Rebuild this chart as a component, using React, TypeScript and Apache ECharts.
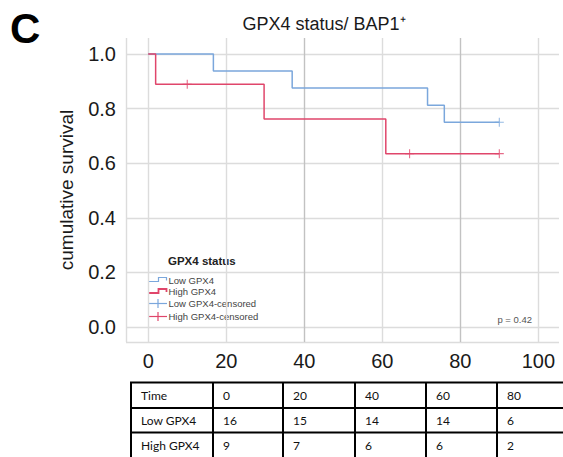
import React, { useEffect, useRef } from "react";
import * as echarts from "echarts";

// Kaplan-Meier step data (time in months, cumulative survival)
const lowTimes = [0, 16.7, 36.9, 71.6, 75.9, 90];
const lowSurv = [1, 0.9375, 0.875, 0.8125, 0.75, 0.75];
const highTimes = [0, 1.9, 29.7, 60.9, 90];
const highSurv = [1, 0.889, 0.762, 0.635, 0.635];
const lowCensorTimes = [90];
const lowCensorSurv = [0.75];
const highCensorTimes = [10, 67, 90];
const highCensorSurv = [0.889, 0.635, 0.635];

// Number at risk table
const tableTimes = ["0", "20", "40", "60", "80"];
const lowAtRisk = [16, 15, 14, 14, 6];
const highAtRisk = [9, 7, 6, 6, 2];
const tableRowLabels = ["Time", "Low GPX4", "High GPX4"];

const legendLabels = ["Low GPX4", "High GPX4", "Low GPX4-censored", "High GPX4-censored"];

const BLUE = "#7ba7dc";
const RED = "#e0466b";
const FONT = "Liberation Sans, Arial, sans-serif";

const PLUS = "path://M4.4,0h1.2v4.4h4.4v1.2h-4.4v4.4h-1.2v-4.4h-4.4v-1.2h4.4z";

function zip(a: number[], b: number[]) {
  return a.map((v, i) => [v, b[i]]);
}

function buildTable() {
  const els: any[] = [];
  const colX = [131, 213, 283, 355, 426, 497, 640];
  const rowY = [382.5, 408, 432.5, 458];
  const rows = [
    [tableRowLabels[0], ...tableTimes],
    [tableRowLabels[1], ...lowAtRisk.map(String)],
    [tableRowLabels[2], ...highAtRisk.map(String)],
  ];
  rowY.forEach((y) => {
    els.push({
      type: "line",
      shape: { x1: colX[0] - 1, y1: y, x2: colX[colX.length - 1], y2: y },
      style: { stroke: "#000", lineWidth: 2 },
    });
  });
  colX.forEach((x) => {
    els.push({
      type: "line",
      shape: { x1: x, y1: rowY[0], x2: x, y2: rowY[rowY.length - 1] },
      style: { stroke: "#000", lineWidth: 2 },
    });
  });
  rows.forEach((r, ri) => {
    r.forEach((t, ci) => {
      els.push({
        type: "text",
        x: colX[ci] + 10,
        y: (rowY[ri] + rowY[ri + 1]) / 2,
        style: {
          text: t,
          fontFamily: "Lato, 'Open Sans', sans-serif",
          fontSize: 12,
          fill: "#111",
          verticalAlign: "middle",
        },
      });
    });
  });
  return els;
}

function buildLegend() {
  const els: any[] = [];
  els.push({
    type: "text",
    x: 168,
    y: 261,
    style: {
      text: "GPX4 status",
      fontFamily: FONT,
      fontWeight: "bold",
      fontSize: 11.5,
      fill: "#222",
      verticalAlign: "middle",
    },
  });
  const ys = [280, 291.5, 303.5, 316.5];
  const colors = [BLUE, RED, BLUE, RED];
  ys.forEach((y, i) => {
    const c = colors[i];
    if (i < 2) {
      els.push({
        type: "polyline",
        shape: {
          points: [
            [148, y + 1.5],
            [158.5, y + 1.5],
            [158.5, y - 2.5],
            [166.5, y - 2.5],
            [166.5, y + 0.5],
          ],
        },
        style: { stroke: c, lineWidth: i === 1 ? 1.8 : 1.2, fill: "none" },
      });
    } else {
      els.push({
        type: "line",
        shape: { x1: 148, y1: y, x2: 167, y2: y },
        style: { stroke: c, lineWidth: 1.2 },
      });
      els.push({
        type: "line",
        shape: { x1: 158, y1: y - 4.5, x2: 158, y2: y + 4.5 },
        style: { stroke: c, lineWidth: 1.2 },
      });
    }
    els.push({
      type: "text",
      x: 168.5,
      y: y,
      style: {
        text: legendLabels[i],
        fontFamily: FONT,
        fontSize: 9.5,
        fill: "#444",
        verticalAlign: "middle",
      },
    });
  });
  return els;
}

export default function App() {
  const ref = useRef<HTMLDivElement>(null);
  useEffect(() => {
    if (!ref.current) return;
    const chart = echarts.init(ref.current, null, { renderer: "svg" });
    const light = "#dcdcdc";
    const dark = "#c2c2c2";
    chart.setOption({
      animation: false,
      backgroundColor: "#fff",
      title: {
        text: "GPX4 status/ BAP1\u207A",
        left: 319,
        top: 10,
        textAlign: "center",
        textStyle: { fontFamily: FONT, fontSize: 18, fontWeight: "normal", color: "#1a1a1a" },
      },
      grid: { left: 126, right: 4, top: 38, bottom: 115, containLabel: false },
      xAxis: {
        type: "value",
        min: -5.7,
        max: 105.3,
        axisLine: { show: false },
        axisTick: { show: false },
        axisLabel: {
          showMinLabel: false,
          showMaxLabel: false,
          fontFamily: FONT,
          fontSize: 20,
          color: "#1a1a1a",
          margin: 9,
        },
        splitLine: {
          show: true,
          lineStyle: {
            width: 1.4,
            color: [light, light, light, dark, light, dark, light, "rgba(0,0,0,0)"],
          },
        },
      },
      yAxis: {
        type: "value",
        min: -0.055,
        max: 1.0586,
        name: "cumulative survival",
        nameLocation: "middle",
        nameRotate: 90,
        nameGap: 50,
        nameTextStyle: { fontFamily: FONT, fontSize: 19, color: "#1a1a1a" },
        axisLine: { show: false },
        axisTick: { show: false },
        axisLabel: {
          showMinLabel: false,
          showMaxLabel: false,
          fontFamily: FONT,
          fontSize: 20,
          color: "#1a1a1a",
          margin: 10,
          formatter: (v: number) => v.toFixed(1),
        },
        splitLine: {
          show: true,
          lineStyle: {
            width: 1.4,
            color: [light, light, light, light, light, light, light, "rgba(0,0,0,0)"],
          },
        },
      },
      series: [
        {
          name: "Low GPX4",
          type: "line",
          step: "end",
          data: zip(lowTimes, lowSurv),
          showSymbol: false,
          lineStyle: { color: BLUE, width: 1.5 },
          z: 3,
        },
        {
          name: "High GPX4",
          type: "line",
          step: "end",
          data: zip(highTimes, highSurv),
          showSymbol: false,
          lineStyle: { color: RED, width: 1.5 },
          z: 4,
        },
        {
          name: "Low GPX4-censored",
          type: "scatter",
          data: zip(lowCensorTimes, lowCensorSurv),
          symbol: PLUS,
          symbolSize: 9,
          itemStyle: { color: BLUE },
          z: 5,
        },
        {
          name: "High GPX4-censored",
          type: "scatter",
          data: zip(highCensorTimes, highCensorSurv),
          symbol: PLUS,
          symbolSize: 9,
          itemStyle: { color: RED },
          z: 5,
        },
      ],
      graphic: [
        {
          type: "text",
          x: 10,
          y: 28,
          style: {
            text: "C",
            fontFamily: FONT,
            fontWeight: "bold",
            fontSize: 42,
            fill: "#000",
            verticalAlign: "middle",
          },
        },
        {
          type: "text",
          x: 532,
          y: 319,
          style: {
            text: "p = 0.42",
            fontFamily: FONT,
            fontSize: 9.5,
            fill: "#555",
            align: "right",
            verticalAlign: "middle",
          },
        },
        ...buildLegend(),
        ...buildTable(),
      ],
    });
    return () => chart.dispose();
  }, []);
  return (
    <div
      ref={ref}
      style={{ position: "fixed", left: 0, top: 0, width: 563, height: 457 }}
    />
  );
}
